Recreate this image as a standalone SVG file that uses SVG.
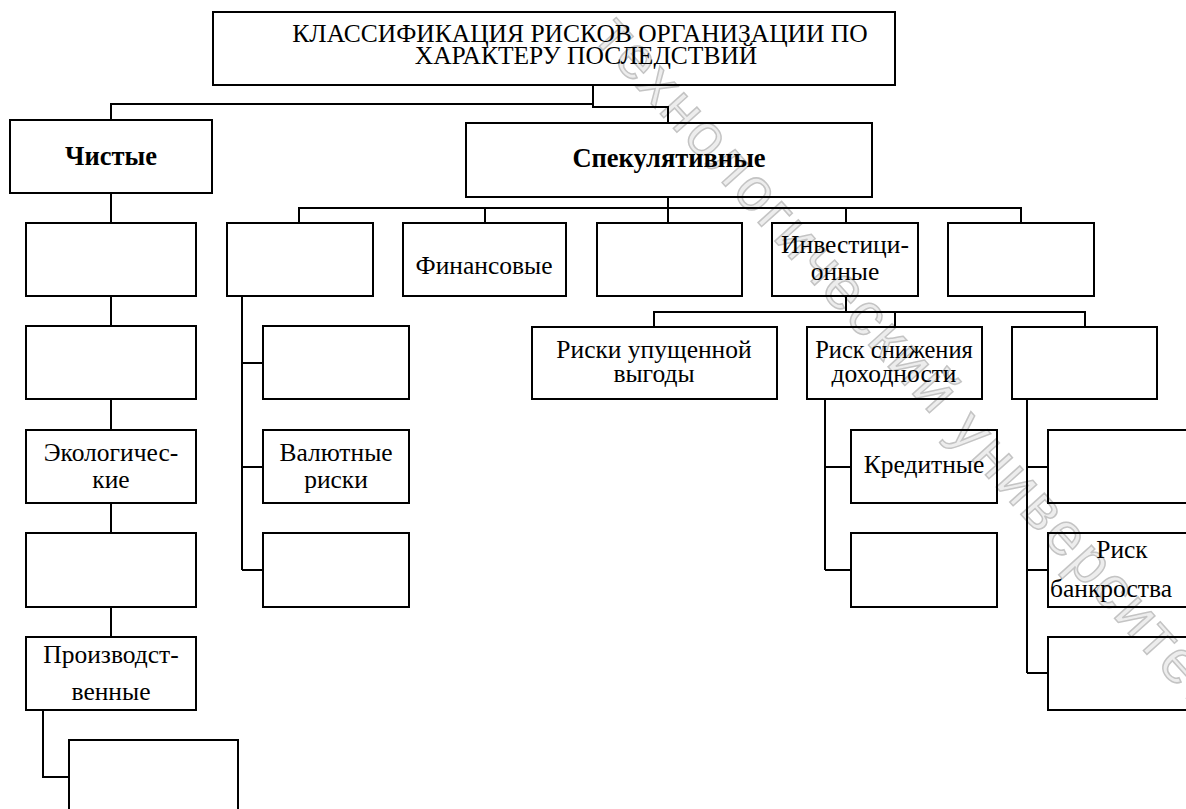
<svg xmlns="http://www.w3.org/2000/svg" width="1186" height="809" viewBox="0 0 1186 809">
<style>
.box{fill:none;stroke:#000;stroke-width:2}
.ln{fill:none;stroke:#000;stroke-width:2}
.t{font-family:'Liberation Serif','Times New Roman',serif;font-size:25.5px;fill:#000;text-anchor:middle}
.b{font-weight:bold;font-size:26.5px}
.wm{font-family:'Liberation Sans',Arial,sans-serif;font-size:60px;fill:#ededed;stroke:#c4c4c4;stroke-width:1.5;letter-spacing:3px}
</style>
<rect width="1186" height="809" fill="#fff"/>
<g id="watermark">
<text class="wm" transform="translate(592,38) rotate(48)">технологический университет</text>
</g>
<g id="connectors">
<path class="ln" d="M111,120 V104 H593 M593,85 V107 H668 V123"/>
<path class="ln" d="M111,193 V223 M111,296 V326 M111,399 V430 M111,503 V533 M111,607 V637"/>
<path class="ln" d="M43,710 V777 H69"/>
<path class="ln" d="M668,197 V208 M299,223 V208 H1021 V223 M485,208 V223 M668,208 V223 M846,208 V223"/>
<path class="ln" d="M846,296 V312 M654,327 V312 H1085 V327 M895,312 V327"/>
<path class="ln" d="M242,296 V570 M242,363 H263 M242,467 H263 M242,570 H263"/>
<path class="ln" d="M825,399 V570 M825,467 H851 M825,570 H851"/>
<path class="ln" d="M1027,399 V673 M1027,467 H1048 M1027,570 H1048 M1027,673 H1048"/>
</g>
<g id="title">
<rect class="box" x="213" y="12" width="682" height="73"/>
<text class="t" x="580" y="42">КЛАССИФИКАЦИЯ РИСКОВ ОРГАНИЗАЦИИ ПО</text>
<text class="t" x="586" y="64">ХАРАКТЕРУ ПОСЛЕДСТВИЙ</text>
</g>
<g id="pure">
<rect class="box" x="10" y="120" width="202" height="73"/>
<text class="t b" x="111" y="165">Чистые</text>
</g>
<g id="pure1"><rect class="box" x="26" y="223" width="170" height="73"/></g>
<g id="pure2"><rect class="box" x="26" y="326" width="170" height="73"/></g>
<g id="ecological">
<rect class="box" x="26" y="430" width="170" height="73"/>
<text class="t" x="111" y="461">Экологичес-</text>
<text class="t" x="111" y="488">кие</text>
</g>
<g id="pure4"><rect class="box" x="26" y="533" width="170" height="74"/></g>
<g id="production">
<rect class="box" x="26" y="637" width="170" height="73"/>
<text class="t" x="111" y="663">Производст-</text>
<text class="t" x="111" y="700">венные</text>
</g>
<g id="production1"><rect class="box" x="69" y="740" width="169" height="90"/></g>
<g id="speculative">
<rect class="box" x="466" y="123" width="406" height="74"/>
<text class="t b" x="669" y="167">Спекулятивные</text>
</g>
<g id="specA"><rect class="box" x="227" y="223" width="146" height="73"/></g>
<g id="financial">
<rect class="box" x="403" y="223" width="163" height="73"/>
<text class="t" x="484" y="274">Финансовые</text>
</g>
<g id="specC"><rect class="box" x="597" y="223" width="145" height="73"/></g>
<g id="investment">
<rect class="box" x="772" y="223" width="146" height="73"/>
<text class="t" x="845" y="253">Инвестици-</text>
<text class="t" x="845" y="280">онные</text>
</g>
<g id="specE"><rect class="box" x="948" y="223" width="146" height="73"/></g>
<g id="lostprofit">
<rect class="box" x="532" y="327" width="245" height="72"/>
<text class="t" x="654" y="358">Риски упущенной</text>
<text class="t" x="654" y="382">выгоды</text>
</g>
<g id="yield">
<rect class="box" x="807" y="327" width="175" height="72"/>
<text class="t" x="894" y="358" style="font-size:24.5px">Риск снижения</text>
<text class="t" x="894" y="382">доходности</text>
</g>
<g id="inv3"><rect class="box" x="1012" y="327" width="145" height="72"/></g>
<g id="a1"><rect class="box" x="263" y="326" width="146" height="73"/></g>
<g id="currency">
<rect class="box" x="263" y="430" width="146" height="73"/>
<text class="t" x="336" y="461">Валютные</text>
<text class="t" x="336" y="488">риски</text>
</g>
<g id="a3"><rect class="box" x="263" y="533" width="146" height="74"/></g>
<g id="credit">
<rect class="box" x="851" y="430" width="146" height="73"/>
<text class="t" x="924" y="473">Кредитные</text>
</g>
<g id="y2"><rect class="box" x="851" y="533" width="146" height="74"/></g>
<g id="c1"><rect class="box" x="1048" y="430" width="160" height="73"/></g>
<g id="bankruptcy">
<rect class="box" x="1048" y="533" width="160" height="74"/>
<text class="t" x="1122" y="558">Риск</text>
<text class="t" x="1050" y="597" style="text-anchor:start">банкроства</text>
</g>
<g id="c3"><rect class="box" x="1048" y="637" width="160" height="73"/></g>
</svg>
